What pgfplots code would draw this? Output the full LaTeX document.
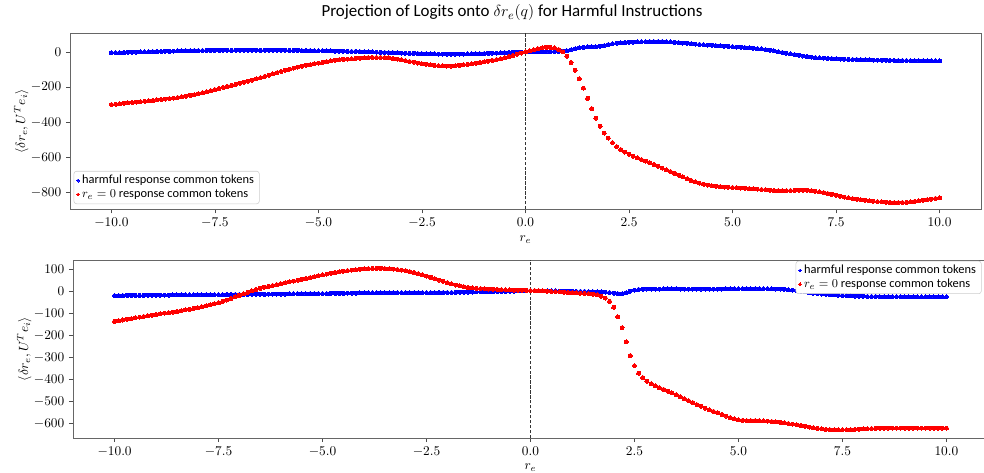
\documentclass[border=0pt]{standalone}
\usepackage{fontspec}
\setmainfont{Carlito}
\usepackage{pgfplots}
\usepackage{pgfplotstable}
\pgfplotsset{compat=1.18}

\pgfplotstableread{
x blue red
-10.0 -5 -299
-9.9 -4 -297
-9.8 -4 -294
-9.7 -3 -292
-9.6 -2 -290
-9.5 -2 -287
-9.4 -1 -285
-9.3 0 -283
-9.2 0 -280
-9.1 1 -278
-9.0 2 -276
-8.9 3 -273
-8.8 3 -270
-8.7 4 -268
-8.6 4 -265
-8.5 5 -262
-8.4 6 -259
-8.3 6 -255
-8.2 7 -251
-8.1 7 -247
-8.0 8 -243
-7.9 8 -238
-7.8 8 -232
-7.7 9 -226
-7.6 9 -220
-7.5 9 -214
-7.4 9 -208
-7.3 10 -202
-7.2 10 -196
-7.1 10 -190
-7.0 10 -184
-6.9 10 -178
-6.8 10 -172
-6.7 10 -166
-6.6 10 -160
-6.5 10 -153
-6.4 10 -146
-6.3 10 -139
-6.2 10 -132
-6.1 10 -125
-6.0 10 -118
-5.9 10 -111
-5.8 10 -104
-5.7 9 -98
-5.6 9 -92
-5.5 9 -86
-5.4 8 -81
-5.3 8 -76
-5.2 8 -72
-5.1 7 -67
-5.0 7 -63
-4.9 7 -59
-4.8 6 -55
-4.7 6 -51
-4.6 5 -47
-4.5 5 -44
-4.4 4 -42
-4.3 4 -40
-4.2 3 -38
-4.1 3 -36
-4.0 2 -35
-3.9 1 -33
-3.8 0 -32
-3.7 0 -31
-3.6 -1 -31
-3.5 -2 -31
-3.4 -3 -32
-3.3 -4 -34
-3.2 -4 -37
-3.1 -5 -40
-3.0 -6 -44
-2.9 -7 -49
-2.8 -8 -54
-2.7 -8 -58
-2.6 -9 -63
-2.5 -10 -67
-2.4 -10 -70
-2.3 -11 -73
-2.2 -11 -76
-2.1 -12 -78
-2.0 -12 -79
-1.9 -12 -80
-1.8 -12 -80
-1.7 -12 -79
-1.6 -12 -76
-1.5 -12 -73
-1.4 -11 -70
-1.3 -11 -67
-1.2 -10 -64
-1.1 -10 -60
-1.0 -9 -57
-0.9 -8 -53
-0.8 -7 -48
-0.7 -6 -43
-0.6 -5 -38
-0.5 -4 -32
-0.4 -3 -26
-0.3 -2 -20
-0.2 -1 -13
-0.1 -1 -6
0.0 0 0
0.1 0 7
0.2 1 13
0.3 1 19
0.4 2 23
0.5 2 26
0.6 2 26
0.7 3 23
0.8 3 14
0.9 4 0
1.0 7 -24
1.1 12 -60
1.2 18 -104
1.3 24 -152
1.4 27 -206
1.5 29 -264
1.6 29 -322
1.7 29 -376
1.8 32 -422
1.9 36 -461
2.0 42 -490
2.1 47 -516
2.2 50 -538
2.3 52 -555
2.4 54 -569
2.5 55 -582
2.6 56 -593
2.7 57 -603
2.8 58 -612
2.9 58 -621
3.0 59 -630
3.1 59 -640
3.2 59 -650
3.3 59 -660
3.4 58 -670
3.5 57 -680
3.6 55 -690
3.7 53 -701
3.8 51 -711
3.9 49 -721
4.0 47 -731
4.1 45 -739
4.2 43 -746
4.3 41 -752
4.4 39 -757
4.5 38 -761
4.6 36 -764
4.7 35 -766
4.8 33 -768
4.9 32 -769
5.0 30 -771
5.1 28 -772
5.2 27 -774
5.3 25 -775
5.4 23 -777
5.5 21 -778
5.6 19 -780
5.7 17 -782
5.8 13 -784
5.9 10 -786
6.0 6 -788
6.1 1 -789
6.2 -3 -789
6.3 -7 -789
6.4 -11 -788
6.5 -15 -787
6.6 -19 -786
6.7 -23 -786
6.8 -26 -787
6.9 -29 -789
7.0 -32 -792
7.1 -34 -796
7.2 -35 -800
7.3 -37 -805
7.4 -38 -810
7.5 -39 -815
7.6 -40 -820
7.7 -41 -825
7.8 -42 -830
7.9 -43 -834
8.0 -43 -838
8.1 -44 -841
8.2 -45 -844
8.3 -45 -847
8.4 -46 -849
8.5 -46 -851
8.6 -47 -853
8.7 -47 -855
8.8 -48 -856
8.9 -48 -857
9.0 -49 -857
9.1 -49 -856
9.2 -49 -855
9.3 -50 -853
9.4 -50 -850
9.5 -50 -847
9.6 -50 -844
9.7 -51 -840
9.8 -51 -837
9.9 -51 -833
10.0 -51 -829
}\toptable

\pgfplotstableread{
x blue red
-10.0 -19 -136
-9.9 -19 -133
-9.8 -19 -130
-9.7 -18 -127
-9.6 -18 -124
-9.5 -18 -120
-9.4 -18 -117
-9.3 -18 -114
-9.2 -17 -111
-9.1 -17 -108
-9.0 -17 -105
-8.9 -17 -102
-8.8 -17 -99
-8.7 -17 -97
-8.6 -16 -94
-8.5 -16 -91
-8.4 -16 -88
-8.3 -16 -84
-8.2 -16 -81
-8.1 -16 -77
-8.0 -16 -74
-7.9 -16 -70
-7.8 -15 -66
-7.7 -15 -61
-7.6 -15 -56
-7.5 -15 -51
-7.4 -15 -45
-7.3 -14 -39
-7.2 -14 -32
-7.1 -14 -25
-7.0 -14 -18
-6.9 -14 -11
-6.8 -13 -4
-6.7 -13 3
-6.6 -13 9
-6.5 -13 14
-6.4 -13 19
-6.3 -12 23
-6.2 -12 27
-6.1 -12 31
-6.0 -12 35
-5.9 -12 39
-5.8 -11 43
-5.7 -11 47
-5.6 -11 51
-5.5 -11 55
-5.4 -11 59
-5.3 -10 63
-5.2 -10 67
-5.1 -10 71
-5.0 -10 75
-4.9 -10 79
-4.8 -9 83
-4.7 -9 86
-4.6 -9 89
-4.5 -9 92
-4.4 -8 95
-4.3 -8 97
-4.2 -8 99
-4.1 -7 101
-4.0 -7 103
-3.9 -7 104
-3.8 -7 105
-3.7 -7 105
-3.6 -7 105
-3.5 -7 104
-3.4 -7 103
-3.3 -6 102
-3.2 -6 100
-3.1 -6 97
-3.0 -6 94
-2.9 -6 90
-2.8 -6 86
-2.7 -6 81
-2.6 -6 76
-2.5 -6 70
-2.4 -6 64
-2.3 -6 58
-2.2 -5 52
-2.1 -5 46
-2.0 -5 40
-1.9 -5 34
-1.8 -4 29
-1.7 -4 25
-1.6 -3 21
-1.5 -3 18
-1.4 -3 16
-1.3 -2 14
-1.2 -2 13
-1.1 -1 12
-1.0 -1 11
-0.9 -1 10
-0.8 0 9
-0.7 0 8
-0.6 0 7
-0.5 1 7
-0.4 1 6
-0.3 2 6
-0.2 2 5
-0.1 3 5
0.0 3 4
0.1 3 4
0.2 3 3
0.3 2 2
0.4 2 1
0.5 2 0
0.6 2 -1
0.7 1 -2
0.8 1 -4
0.9 1 -5
1.0 1 -6
1.1 0 -7
1.2 0 -8
1.3 0 -9
1.4 -1 -10
1.5 -1 -12
1.6 -2 -16
1.7 -2 -22
1.8 -3 -30
1.9 -5 -45
2.0 -8 -72
2.1 -10 -116
2.2 -11 -165
2.3 -6 -230
2.4 1 -292
2.5 6 -338
2.6 9 -372
2.7 10 -392
2.8 11 -408
2.9 11 -420
3.0 11 -430
3.1 11 -438
3.2 12 -446
3.3 12 -454
3.4 12 -462
3.5 12 -470
3.6 11 -479
3.7 11 -488
3.8 11 -497
3.9 11 -506
4.0 11 -515
4.1 11 -523
4.2 11 -531
4.3 11 -539
4.4 11 -546
4.5 11 -553
4.6 11 -560
4.7 12 -567
4.8 12 -574
4.9 12 -580
5.0 12 -585
5.1 12 -587
5.2 12 -588
5.3 12 -588
5.4 12 -588
5.5 12 -588
5.6 12 -589
5.7 12 -590
5.8 12 -592
5.9 11 -594
6.0 11 -596
6.1 10 -598
6.2 8 -601
6.3 6 -604
6.4 3 -607
6.5 1 -610
6.6 -2 -613
6.7 -5 -617
6.8 -8 -620
6.9 -10 -623
7.0 -12 -626
7.1 -13 -628
7.2 -15 -629
7.3 -16 -630
7.4 -17 -630
7.5 -18 -630
7.6 -19 -630
7.7 -20 -629
7.8 -21 -628
7.9 -22 -627
8.0 -22 -626
8.1 -23 -625
8.2 -23 -624
8.3 -23 -623
8.4 -24 -623
8.5 -24 -623
8.6 -24 -622
8.7 -24 -622
8.8 -24 -622
8.9 -24 -622
9.0 -25 -622
9.1 -25 -622
9.2 -25 -622
9.3 -25 -622
9.4 -25 -622
9.5 -25 -622
9.6 -25 -622
9.7 -25 -622
9.8 -25 -622
9.9 -25 -622
10.0 -25 -622
}\bottomtable

\pgfplotsset{
  panel/.style={
    scale only axis,
    xmin=-11, xmax=11,
    xtick={-10,-7.5,-5,-2.5,0,2.5,5,7.5,10},
    xticklabel style={/pgf/number format/.cd,fixed,fixed zerofill,precision=1},
    yticklabel style={/pgf/number format/.cd,fixed,int detect},
    tick align=outside, tick pos=left,
    major tick length=3pt,
    axis line style={black!60},
    every tick/.style={black!70},
    tick label style={font=\fontsize{10}{12}\selectfont},
    label style={font=\fontsize{10}{12}\selectfont},
    xlabel={$r_e$},
    ylabel={$\langle \delta r_e, U^T e_i\rangle$},
    xlabel style={yshift=1pt},
    ylabel style={yshift=-5pt},
    legend style={font=\fontsize{9.3}{10.5}\selectfont, draw=black!20, rounded corners=2pt,
      inner xsep=2pt, inner ysep=1pt, row sep=-1.5pt},
    legend cell align=left,
    legend image post style={mark size=1.1pt},
  },
  bluedots/.style={only marks, mark=*, mark size=1.5pt, color=blue, mark options={draw=blue, fill=blue, line width=0pt}},
  reddots/.style={only marks, mark=*, mark size=1.5pt, color=red, mark options={draw=red, fill=red, line width=0pt}},
}

\begin{document}
\begin{tikzpicture}[x=1pt,y=1pt]
\useasboundingbox (0,0) rectangle (738,-354);
\node[font=\fontsize{12.7}{14}\selectfont] at (384,-9.5) {Projection of Logits onto $\delta r_e(q)$ for Harmful Instructions};

\begin{axis}[panel,
  at={(52.5pt,-25pt)}, anchor=north west,
  width=683.25pt, height=132pt,
  ymin=-895, ymax=106,
  ytick={-800,-600,-400,-200,0},
  legend style={at={(0.004,0.03)}, anchor=south west},
]
\addplot[bluedots] table[x=x, y=blue] {\toptable};
\addlegendentry{harmful response common tokens}
\addplot[reddots] table[x=x, y=red] {\toptable};
\addlegendentry{$r_e = 0$ response common tokens}
\addplot[black!80, dash pattern=on 2.5pt off 1.2pt, line width=0.6pt, forget plot] coordinates {(0,-895) (0,106)};
\end{axis}

\begin{axis}[panel,
  at={(54.75pt,-195pt)}, anchor=north west,
  width=686.25pt, height=133.5pt,
  ymin=-667, ymax=143,
  ytick={-600,-500,-400,-300,-200,-100,0,100},
  legend style={at={(0.993,0.995)}, anchor=north east},
]
\addplot[bluedots] table[x=x, y=blue] {\bottomtable};
\addlegendentry{harmful response common tokens}
\addplot[reddots] table[x=x, y=red] {\bottomtable};
\addlegendentry{$r_e = 0$ response common tokens}
\addplot[black!80, dash pattern=on 2.5pt off 1.2pt, line width=0.6pt, forget plot] coordinates {(0,-667) (0,143)};
\end{axis}
\end{tikzpicture}
\end{document}
